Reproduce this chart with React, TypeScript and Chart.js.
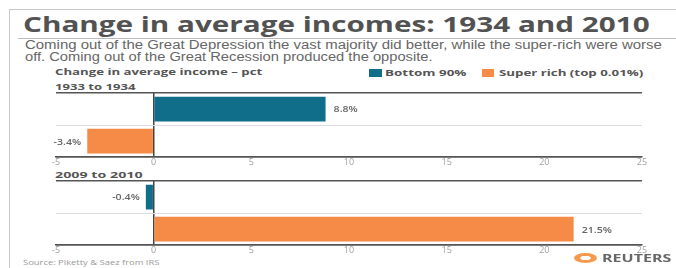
import React, { useEffect, useLayoutEffect, useRef, useState } from "react";
import { Chart, registerables } from "chart.js";

Chart.register(...registerables);

const periods = ["1933 to 1934", "2009 to 2010"];
const groups = ["Bottom 90%", "Super rich (top 0.01%)"];
const bottom90 = [8.8, -0.4];
const superRich = [-3.4, 21.5];
const xTicks = [-5, 0, 5, 10, 15, 20, 25];

const TEAL = "#106e8b";
const ORANGE = "#f68b47";

const labelPlugin = {
  id: "barLabels",
  afterDatasetsDraw(chart: any) {
    const ctx = chart.ctx;
    const meta = chart.getDatasetMeta(0);
    const data = chart.data.datasets[0].data as number[];
    ctx.save();
    ctx.font = "600 8.5px 'Open Sans', sans-serif";
    ctx.fillStyle = "#666";
    ctx.textBaseline = "middle";
    meta.data.forEach((el: any, i: number) => {
      const v = data[i];
      const txt = v.toFixed(1) + "%";
      ctx.save();
      ctx.translate(el.x, el.y + 1);
      ctx.scale(1.25, 1);
      if (v >= 0) {
        ctx.textAlign = "left";
        ctx.fillText(txt, 8 / 1.25, 0);
      } else {
        ctx.textAlign = "right";
        ctx.fillText(txt, -6 / 1.25, 0);
      }
      ctx.restore();
    });
    ctx.restore();
  },
};

function Panel({ idx, top }: { idx: number; top: number }) {
  const ref = useRef<HTMLCanvasElement>(null);
  useEffect(() => {
    if (!ref.current) return;
    const chart = new Chart(ref.current, {
      type: "bar",
      data: {
        labels: groups,
        datasets: [
          {
            data: [bottom90[idx], superRich[idx]],
            backgroundColor: [TEAL, ORANGE],
            barPercentage: 0.77,
            categoryPercentage: 1,
          },
        ],
      },
      options: {
        indexAxis: "y",
        animation: false,
        responsive: false,
        maintainAspectRatio: false,
        layout: { padding: { left: 26, right: 28, top: 5, bottom: 0 } },
        plugins: { legend: { display: false }, tooltip: { enabled: false } },
        scales: {
          x: {
            min: xTicks[0],
            max: xTicks[xTicks.length - 1],
            afterBuildTicks: (s: any) => {
              s.ticks = xTicks.map((v) => ({ value: v }));
            },
            ticks: {
              color: "#a0a0a0",
              font: { size: 9, family: "'Open Sans', sans-serif" },
              padding: 0,
            },
            grid: {
              drawTicks: false,
              color: (c: any) => (c.tick && c.tick.value === 0 ? "#444" : "rgba(0,0,0,0)"),
              lineWidth: 1.5,
            },
            border: { display: true, color: "#555", width: 1.5 },
          },
          y: {
            ticks: { display: false },
            grid: {
              offset: true,
              drawTicks: false,
              color: (c: any) => (c.index === 1 ? "#dcdcdc" : "#555"),
              lineWidth: (c: any) => (c.index === 1 ? 1 : 1.5),
            },
            border: { display: false },
          },
        },
      },
      plugins: [labelPlugin],
    } as any);
    return () => chart.destroy();
  }, [idx]);
  return (
    <canvas
      ref={ref}
      width={640}
      height={80}
      style={{ position: "absolute", left: 30, top, width: 640, height: 80 }}
    />
  );
}

// Text stretched horizontally to a target width (the reference is a horizontally stretched image)
function Fit({
  x,
  y,
  w,
  size,
  weight = 400,
  family = "'Open Sans', sans-serif",
  color = "#555",
  lh,
  children,
}: {
  x: number;
  y: number;
  w: number;
  size: number;
  weight?: number;
  family?: string;
  color?: string;
  lh?: number;
  children: React.ReactNode;
}) {
  const ref = useRef<HTMLSpanElement>(null);
  const [sx, setSx] = useState(1);
  useLayoutEffect(() => {
    if (ref.current) {
      const natural = ref.current.offsetWidth;
      if (natural > 0) setSx(w / natural);
    }
  }, [w]);
  return (
    <span
      ref={ref}
      style={{
        position: "absolute",
        left: x,
        top: y,
        whiteSpace: "nowrap",
        display: "inline-block",
        fontFamily: family,
        fontWeight: weight,
        fontSize: size,
        color,
        lineHeight: `${lh ?? Math.round(size * 1.25)}px`,
        transform: `scaleX(${sx})`,
        transformOrigin: "0 0",
      }}
    >
      {children}
    </span>
  );
}

export default function App() {
  useEffect(() => {
    document.body.style.margin = "0";
  }, []);
  const box: React.CSSProperties = { position: "absolute" };
  return (
    <div style={{ position: "relative", width: 676, height: 268, overflow: "hidden", background: "#fff" }}>
      <div style={{ ...box, left: 9, top: 9, width: 680, height: 270, borderLeft: "1px solid #c8c8c8", borderTop: "1px solid #c8c8c8" }} />
      <div style={{ ...box, left: 18, top: 38, width: 660, height: 0, borderTop: "1px solid #bbb" }} />
      <Fit x={23} y={10} w={627} size={21} weight={700} color="#525252" lh={28}>
        Change in average incomes: 1934 and 2010
      </Fit>
      <Fit x={25} y={39} w={637} size={12} family="'Liberation Sans', Arial, sans-serif" color="#666" lh={12}>
        Coming out of the Great Depression the vast majority did better, while the super-rich were worse
      </Fit>
      <Fit x={25} y={51} w={408} size={12} family="'Liberation Sans', Arial, sans-serif" color="#666" lh={12}>
        off. Coming out of the Great Recession produced the opposite.
      </Fit>
      <Fit x={55} y={66} w={207} size={9.5} weight={700} lh={12}>
        Change in average income – pct
      </Fit>
      <div style={{ ...box, left: 369, top: 69, width: 13, height: 8, background: TEAL }} />
      <Fit x={385} y={67} w={82} size={9.5} weight={700} lh={12}>
        {groups[0]}
      </Fit>
      <div style={{ ...box, left: 482, top: 69, width: 12, height: 8, background: ORANGE }} />
      <Fit x={499} y={67} w={144} size={9.5} weight={700} lh={12}>
        {groups[1]}
      </Fit>
      <Fit x={55} y={81} w={80} size={9.5} weight={700} lh={12}>
        {periods[0]}
      </Fit>
      <Panel idx={0} top={88} />
      <Fit x={55} y={169} w={87} size={9.5} weight={700} lh={12}>
        {periods[1]}
      </Fit>
      <Panel idx={1} top={176} />
      <Fit x={23} y={258} w={137} size={7} color="#999" lh={10}>
        Source: Piketty &amp; Saez from IRS
      </Fit>
      <div style={{ ...box, left: 574, top: 253, width: 23, height: 10, borderRadius: "50%", background: "radial-gradient(ellipse at 50% 50%, #fff 0 30%, #f59a4c 34%)" }} />
      <Fit x={602} y={251} w={70} size={11} weight={700} color="#666" lh={14}>
        REUTERS
      </Fit>
    </div>
  );
}
